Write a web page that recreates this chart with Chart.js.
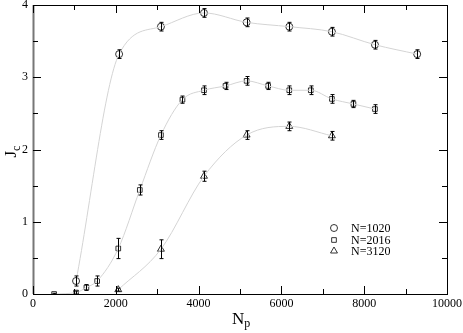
<!DOCTYPE html>
<html>
<head>
<meta charset="utf-8">
<script src="https://cdn.jsdelivr.net/npm/chart.js@4/dist/chart.umd.min.js"></script>
<style>
  html, body { margin: 0; padding: 0; background: #fff; }
  #wrap { width: 463px; height: 333px; }
</style>
</head>
<body>
<div id="wrap"><canvas id="jcChart" width="463" height="333"></canvas></div>
<script>
// --- data ---
const np1020 = [1040, 2080, 3090, 4130, 5160, 6190, 7220, 8260, 9280];
const jc1020 = [0.18, 3.32, 3.70, 3.89, 3.76, 3.70, 3.63, 3.45, 3.32];
const err1020 = [0.07, 0.06, 0.06, 0.06, 0.06, 0.06, 0.06, 0.06, 0.06];

const np2016 = [510, 1040, 1290, 1550, 2060, 2580, 3090, 3610, 4130, 4650, 5160, 5680, 6190, 6710, 7220, 7740, 8260];
const jc2016 = [0.0, 0.02, 0.09, 0.18, 0.63, 1.44, 2.20, 2.69, 2.82, 2.88, 2.95, 2.88, 2.82, 2.82, 2.70, 2.63, 2.56];
const err2016 = [0.01, 0.02, 0.04, 0.07, 0.14, 0.07, 0.06, 0.05, 0.06, 0.05, 0.06, 0.05, 0.06, 0.06, 0.06, 0.05, 0.06];

const np3120 = [2060, 3090, 4130, 5160, 6190, 7220];
const jc3120 = [0.06, 0.62, 1.63, 2.20, 2.32, 2.19];
const err3120 = [0.02, 0.13, 0.07, 0.06, 0.06, 0.06];

const seriesLabels = ['N=1020', 'N=2016', 'N=3120'];
const xTicks = [0, 2000, 4000, 6000, 8000, 10000];
const yTicks = [0, 1, 2, 3, 4];
const xMinor = [1000, 3000, 5000, 7000, 9000];
const yMinor = [0.5, 1.5, 2.5, 3.5];

const SERIF = '"Liberation Serif", "DejaVu Serif", serif';

function pts(xs, ys) {
    return xs.map((x, i) => ({ x: x, y: ys[i] }));
}

const series = [
    { x: np1020, y: jc1020, err: err1020, style: 'circle', r: 3.5 },
    { x: np2016, y: jc2016, err: err2016, style: 'rect', r: 3.3 },
    { x: np3120, y: jc3120, err: err3120, style: 'triangle', r: 4 }
];

// fitted grey curves first, symbols on top
const datasets = [];
series.forEach(s => {
    datasets.push({
        type: 'line',
        data: pts(s.x, s.y),
        borderColor: '#d4d4d4',
        borderWidth: 1,
        pointRadius: 0,
        fill: false,
        cubicInterpolationMode: 'monotone'
    });
});
series.forEach((s, k) => {
    datasets.push({
        type: 'scatter',
        label: seriesLabels[k],
        data: pts(s.x, s.y),
        pointStyle: s.style,
        pointRadius: s.r,
        pointBackgroundColor: 'rgba(0,0,0,0)',
        pointBorderColor: '#000',
        pointBorderWidth: 0.8,
        errors: s.err
    });
});

const frame = {
    id: 'frame',
    afterDatasetsDraw(chart) {
        const ctx = chart.ctx;
        const xs = chart.scales.x, ys = chart.scales.y;

        // error bars
        ctx.save();
        ctx.strokeStyle = '#000';
        ctx.lineWidth = 1;
        chart.data.datasets.forEach(ds => {
            if (!ds.errors) return;
            ds.data.forEach((p, i) => {
                const px = Math.round(xs.getPixelForValue(p.x)) + 0.5;
                const y1 = ys.getPixelForValue(p.y + ds.errors[i]);
                const y2 = ys.getPixelForValue(Math.max(0, p.y - ds.errors[i]));
                ctx.beginPath();
                ctx.moveTo(px, y1); ctx.lineTo(px, y2);
                ctx.moveTo(px - 2, y1); ctx.lineTo(px + 2, y1);
                ctx.moveTo(px - 2, y2); ctx.lineTo(px + 2, y2);
                ctx.stroke();
            });
        });
        ctx.restore();
    },
    afterDraw(chart) {
        const ctx = chart.ctx;
        const xs = chart.scales.x, ys = chart.scales.y;
        const a = chart.chartArea;
        ctx.save();

        // box
        ctx.strokeStyle = '#000';
        ctx.lineWidth = 1;
        ctx.strokeRect(a.left + 0.5, a.top + 0.5, a.right - a.left, a.bottom - a.top);
        ctx.strokeStyle = '#777';
        ctx.lineWidth = 2;
        ctx.beginPath();
        ctx.moveTo(a.left + 0.5, a.top); ctx.lineTo(a.left + 0.5, a.bottom);
        ctx.stroke();

        // inward ticks on all four sides
        ctx.strokeStyle = '#000';
        ctx.lineWidth = 1;
        ctx.beginPath();
        const xt = (v, len) => {
            const px = Math.round(xs.getPixelForValue(v)) + 0.5;
            ctx.moveTo(px, a.bottom); ctx.lineTo(px, a.bottom - len);
            ctx.moveTo(px, a.top); ctx.lineTo(px, a.top + len);
        };
        const yt = (v, len) => {
            const py = Math.round(ys.getPixelForValue(v)) + 0.5;
            ctx.moveTo(a.left, py); ctx.lineTo(a.left + len, py);
            ctx.moveTo(a.right, py); ctx.lineTo(a.right - len, py);
        };
        xTicks.forEach(v => xt(v, 8));
        xMinor.forEach(v => xt(v, 5));
        yTicks.forEach(v => yt(v, 8));
        yMinor.forEach(v => yt(v, 5));
        ctx.stroke();

        // tick labels
        ctx.fillStyle = '#000';
        ctx.font = '12px ' + SERIF;
        ctx.textAlign = 'center';
        ctx.textBaseline = 'middle';
        xTicks.forEach(v => ctx.fillText(String(v), xs.getPixelForValue(v), a.bottom + 10));
        ctx.textAlign = 'right';
        yTicks.forEach(v => ctx.fillText(String(v), a.left - 5, ys.getPixelForValue(v)));

        // axis titles with subscripts
        ctx.textBaseline = 'alphabetic';
        ctx.textAlign = 'left';
        const cx = (a.left + a.right) / 2;
        ctx.font = '17px ' + SERIF;
        const wN = ctx.measureText('N').width;
        ctx.fillText('N', cx - 8, 324);
        ctx.font = '12px ' + SERIF;
        ctx.fillText('p', cx - 8 + wN, 327);

        ctx.save();
        ctx.translate(16, (a.top + a.bottom) / 2 + 8);
        ctx.rotate(-Math.PI / 2);
        ctx.font = '17px ' + SERIF;
        const wJ = ctx.measureText('J').width;
        ctx.fillText('J', 0, 0);
        ctx.font = '12px ' + SERIF;
        ctx.fillText('c', wJ, 4);
        ctx.restore();

        // legend inside plot (hollow symbols)
        const lx = 334, ly = [228, 240, 251];
        ctx.font = '12px ' + SERIF;
        ctx.textBaseline = 'middle';
        series.forEach((s, k) => {
            ctx.fillStyle = 'rgba(0,0,0,0)';
            ctx.strokeStyle = '#000';
            ctx.lineWidth = 0.8;
            Chart.helpers.drawPoint(ctx, {
                pointStyle: s.style, radius: s.r, borderWidth: 0.8, rotation: 0
            }, lx, ly[k]);
            ctx.fillStyle = '#000';
            ctx.fillText(seriesLabels[k], lx + 17, ly[k] + 1);
        });

        ctx.restore();
    }
};

new Chart(document.getElementById('jcChart').getContext('2d'), {
    data: { datasets: datasets },
    options: {
        responsive: false,
        animation: false,
        layout: { padding: { left: 33, top: 5, right: 16, bottom: 39 } },
        scales: {
            x: { type: 'linear', min: 0, max: 10000, display: false },
            y: { type: 'linear', min: 0, max: 4, display: false }
        },
        plugins: {
            legend: { display: false },
            tooltip: { enabled: false }
        }
    },
    plugins: [frame]
});
</script>
</body>
</html>
